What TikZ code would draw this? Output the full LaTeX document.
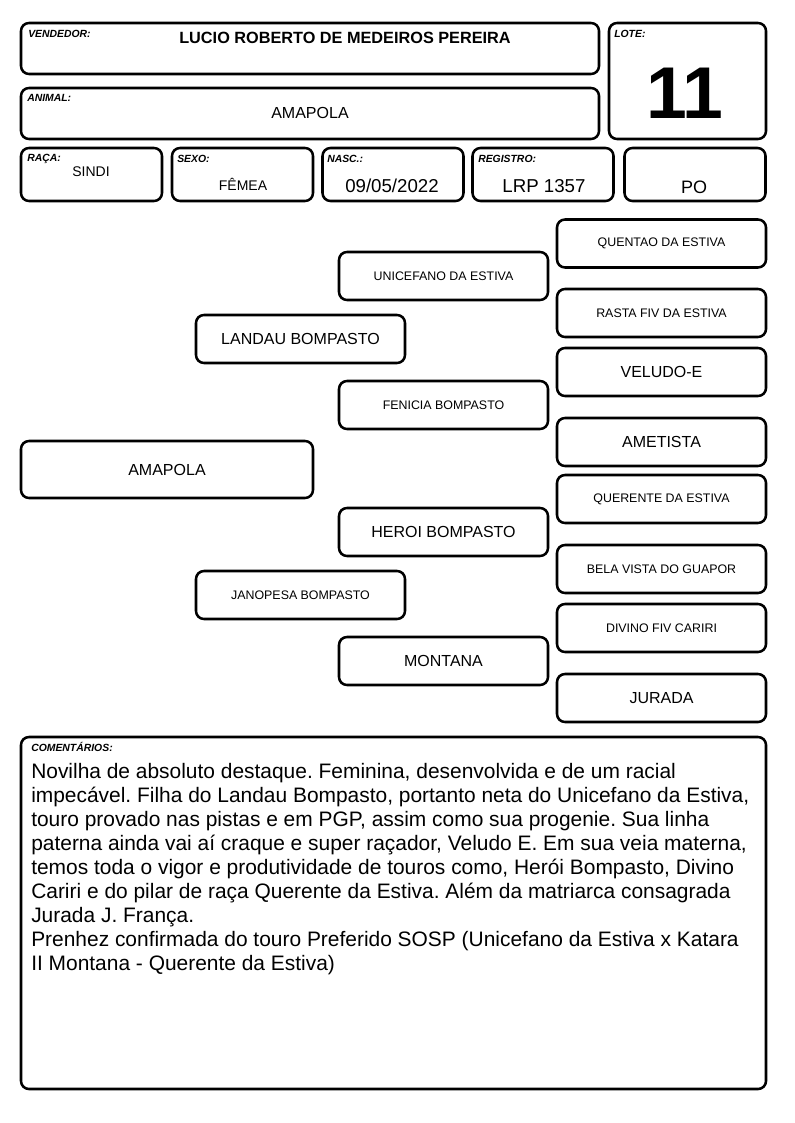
\documentclass[tikz,border=0pt]{standalone}
\usepackage{fontspec}
\setmainfont{Liberation Sans}
\usetikzlibrary{positioning}

\tikzset{
  card/.style={draw, line width=1.9pt, rounded corners=6pt, inner sep=0pt},
  pedbox/.style={card, minimum width=156.75pt, minimum height=36pt},
  hdrbox/.style={card, minimum width=105.75pt, minimum height=39.75pt},
  tag/.style={font=\fontsize{7.8}{9}\selectfont\bfseries\itshape, anchor=base west, inner sep=0pt},
  big/.style={font=\fontsize{12}{14}\selectfont},
  small/.style={font=\fontsize{9.3}{11}\selectfont},
}

\begin{document}
\begin{tikzpicture}[x=0.75pt,y=-0.75pt]
    \useasboundingbox (0,0) rectangle (794,1123);
    % header
    \node[card, minimum width=433.5pt, minimum height=38.25pt] (vendedor) at (310,48.5) {};
    \node[tag] (vendedortag) at (28,38) {VENDEDOR:};
    \node[font=\fontsize{12.2}{14}\selectfont\bfseries] (vendedorval) at (345,38) {LUCIO ROBERTO DE MEDEIROS PEREIRA};
    \node[card, minimum width=117.75pt, minimum height=87pt] (lote) at (687.5,81) {};
    \node[tag] (lotetag) at (614,38) {LOTE:};
    \node[font=\fontsize{55}{58}\selectfont\bfseries] (loteval) at (685,93) {11};
    \node[card, minimum width=433.5pt, minimum height=38.25pt] (animal) at (310,113.5) {};
    \node[tag] (animaltag) at (27,102) {ANIMAL:};
    \node[big] (animalval) at (310,113) {AMAPOLA};
    % data row
    \node[hdrbox] (raca) at (91.5,174.5) {};
    \node[tag] (racatag) at (27,162) {RAÇA:};
    \node[font=\fontsize{10.5}{12}\selectfont] (racaval) at (91,172) {SINDI};
    \node[hdrbox] (sexo) at (242.5,174.5) {};
    \node[tag] (sexotag) at (177,163) {SEXO:};
    \node[font=\fontsize{10.5}{12}\selectfont] (sexoval) at (243,184) {FÊMEA};
    \node[hdrbox] (nasc) at (393,174.5) {};
    \node[tag] (nasctag) at (327,163) {NASC.:};
    \node[font=\fontsize{14}{16}\selectfont] (nascval) at (392,186) {09/05/2022};
    \node[hdrbox] (registro) at (543,174.5) {};
    \node[tag] (registrotag) at (478,163) {REGISTRO:};
    \node[font=\fontsize{14}{16}\selectfont] (registroval) at (544,186) {LRP 1357};
    \node[hdrbox] (po) at (695,174.5) {};
    \node[font=\fontsize{13.5}{16}\selectfont] (poval) at (694,187) {PO};
    % pedigree
    \node[card, big, minimum width=219pt, minimum height=42.75pt] (animalped) at (167,469.5) {AMAPOLA};
    \node[pedbox, big] (pai) at (300.5,339) {LANDAU BOMPASTO};
    \node[pedbox, small] (mae) at (300.5,595) {JANOPESA BOMPASTO};
    \node[pedbox, small] (avopp) at (443.5,276) {UNICEFANO DA ESTIVA};
    \node[pedbox, small] (avopm) at (443.5,405) {FENICIA BOMPASTO};
    \node[pedbox, big] (avomp) at (443.5,532) {HEROI BOMPASTO};
    \node[pedbox, big] (avomm) at (443.5,661) {MONTANA};
    \node[pedbox, small] (bis1) at (661.5,243.5) {QUENTAO DA ESTIVA};
    \node[pedbox, small] (bis2) at (661.5,313) {RASTA FIV DA ESTIVA};
    \node[pedbox, big] (bis3) at (661.5,372) {VELUDO-E};
    \node[pedbox, big] (bis4) at (661.5,442) {AMETISTA};
    \node[pedbox, small] (bis5) at (661.5,499) {QUERENTE DA ESTIVA};
    \node[pedbox, small] (bis6) at (661.5,569) {BELA VISTA DO GUAPOR};
    \node[pedbox, small] (bis7) at (661.5,628) {DIVINO FIV CARIRI};
    \node[pedbox, big] (bis8) at (661.5,698) {JURADA};
    % comments
    \node[card, minimum width=558.75pt, minimum height=264pt] (coment) at (393.5,913) {};
    \node[tag] (comenttag) at (31,751) {COMENTÁRIOS:};
    \node[anchor=north west, inner sep=0pt, align=left,
      font=\fontsize{15.7}{18}\selectfont\frenchspacing] (comenttxt) at (31,763)
      {Novilha de absoluto destaque. Feminina, desenvolvida e de um racial\\
       impecável. Filha do Landau Bompasto, portanto neta do Unicefano da Estiva,\\
       touro provado nas pistas e em PGP, assim como sua progenie. Sua linha\\
       paterna ainda vai aí craque e super raçador, Veludo E. Em sua veia materna,\\
       temos toda o vigor e produtividade de touros como, Herói Bompasto, Divino\\
       Cariri e do pilar de raça Querente da Estiva. Além da matriarca consagrada\\
       Jurada J. França.\\
       Prenhez confirmada do touro Preferido SOSP (Unicefano da Estiva x Katara\\
       II Montana - Querente da Estiva)};
\end{tikzpicture}
\end{document}
